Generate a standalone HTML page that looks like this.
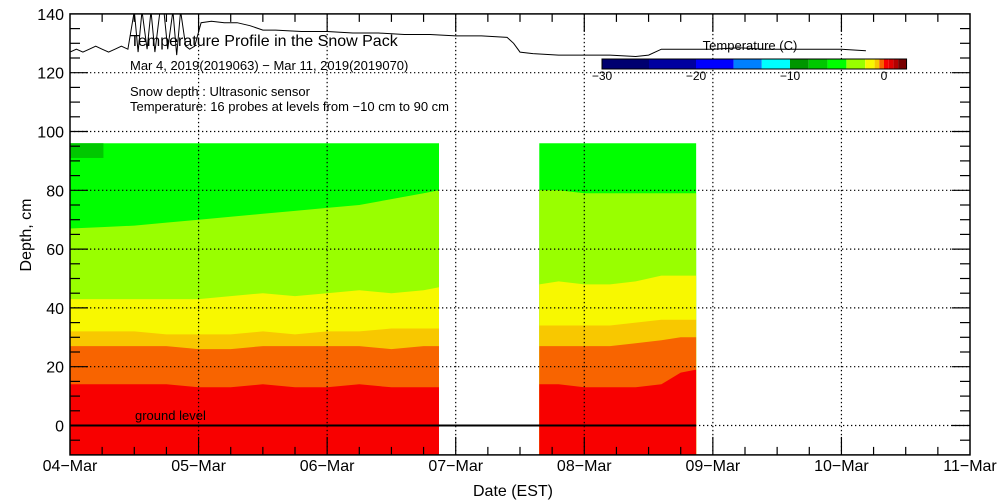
<!DOCTYPE html>
<html><head><meta charset="utf-8"><style>
html,body{margin:0;padding:0;background:#fff;}
svg{display:block;font-family:"Liberation Sans",sans-serif;}
</style></head><body>
<svg id="chart" width="1000" height="500" viewBox="0 0 1000 500">
<g id="bands"></g>
<g id="grid"></g>
<g id="axes"></g>
<g id="texts">
<text x="130" y="46" font-size="16" fill="#000">Temperature Profile in the Snow Pack</text>
<text x="130" y="70" font-size="13" fill="#000">Mar  4, 2019(2019063) − Mar 11, 2019(2019070)</text>
<text x="130" y="96" font-size="13" fill="#000">Snow depth : Ultrasonic sensor</text>
<text x="130" y="111" font-size="13" fill="#000">Temperature: 16 probes at levels from −10 cm to 90 cm</text>
<text x="135" y="420" font-size="13" fill="#000">ground level</text>
<text x="750" y="50" font-size="13" fill="#000" text-anchor="middle">Temperature (C)</text>
<text x="513" y="496" font-size="16" fill="#000" text-anchor="middle">Date (EST)</text>
<text x="0" y="0" font-size="16" fill="#000" text-anchor="middle" transform="translate(31,235) rotate(-90)">Depth, cm</text>
</g>
<g id="snowline"></g>
<g id="colorbar"></g>
</svg>
<script>
const NS="http://www.w3.org/2000/svg";
const dayLabels=["04−Mar","05−Mar","06−Mar","07−Mar","08−Mar","09−Mar","10−Mar","11−Mar"];
const yTicks=[0,20,40,60,80,100,120,140];
const bandColors=["#00ff00","#99ff00","#f8f800","#f8c800","#f86400","#f80000"];
const seg1Times=[0,0.25,0.5,0.75,1,1.25,1.5,1.75,2,2.25,2.5,2.75,2.87];
const seg1GreenLime=[67,67.5,68,69,70,71,72,73,74,75,77,79,80];
const seg1LimeYellow=[43,43,43,43,43,44,45,44,45,46,45,46,47];
const seg1YellowGold=[32,32,32,31,31,31,32,31,32,32,33,33,33];
const seg1GoldOrange=[27,27,27,27,26,26,27,27,27,27,26,27,27];
const seg1OrangeRed=[14,14,14,14,13,13,14,13,13,14,13,13,13];
const seg2Times=[3.65,3.8,4.0,4.2,4.4,4.6,4.75,4.87];
const seg2GreenLime=[80,80,79,79,79,79,79,79];
const seg2LimeYellow=[48,49,48,48,49,51,51,51];
const seg2YellowGold=[34,34,34,34,35,36,36,36];
const seg2GoldOrange=[27,27,27,27,28,29,30,30];
const seg2OrangeRed=[14,14,13,13,13,14,18,19];
const topDepth=96;
const snowTimes=[0,0.05,0.1,0.15,0.2,0.25,0.3,0.35,0.4,0.45,0.5,0.53,0.56,0.6,0.63,0.66,0.7,0.73,0.76,0.8,0.83,0.86,0.9,0.93,0.97,1.02,1.1,1.2,1.3,1.4,1.5,1.6,1.8,2.0,2.2,2.4,2.6,2.8,3.0,3.2,3.4,3.45,3.5,3.6,3.8,4.0,4.2,4.4,4.5,4.6,4.8,5.0,5.2,5.4,5.6,5.8,6.0,6.19];
const snowDepth=[127,128,127,128,129,128,127,128,129,128,141,127,141,128,141,127,141,141,128,141,126,141,129,128,129,137,137.5,137,137,136,134.5,134.5,134,134,133.5,133.5,133,133,132.5,132.5,132,130,127,126.5,126,126,126,125.5,126,128,128,128,128.5,128,128,128,128,127.5];
const cbValues=[-30,-25,-20,-16,-13,-10,-8,-6,-4,-2,-1,-0.5,0,0.5,1,1.5,2.4];
const cbColors=["#000070","#0000a0","#0000ff","#0080ff","#00ffff","#009600","#00c800","#00ff00","#99ff00","#f8f800","#f8c800","#f86400","#f80000","#e00000","#b40000","#780000"];
const cbTicks=[-30,-20,-10,0];

const X0=70,X1=970,DAYW=(X1-X0)/7;
const xs=d=>X0+d*DAYW;
const ys=v=>425.5-2.94*v;
const cbx=v=>602+(v+30)*9.4;
function mk(tag,attrs,parent){const e=document.createElementNS(NS,tag);for(const k in attrs)e.setAttribute(k,attrs[k]);parent.appendChild(e);return e;}
const bands=document.getElementById('bands');
function drawSeg(times,bounds,segName){
  const xa=xs(times[0]),xb=xs(times[times.length-1]);
  const r=mk('rect',{x:xa,y:ys(topDepth),width:xb-xa,height:ys(-10)-ys(topDepth),fill:bandColors[0]},bands);
  
  
  bounds.forEach((b,i)=>{
    let pts=times.map((t,j)=>xs(t).toFixed(1)+","+ys(b[j]).toFixed(1));
    pts.push(xb+","+ys(-10),xa+","+ys(-10));
    const p=mk('polygon',{points:pts.join(" "),fill:bandColors[i+1]},bands);
    
    
  });
}
drawSeg(seg1Times,[seg1GreenLime,seg1LimeYellow,seg1YellowGold,seg1GoldOrange,seg1OrangeRed],'period1');
const dg=mk('rect',{x:xs(0),y:ys(topDepth),width:xs(0.26)-xs(0),height:ys(91)-ys(topDepth),fill:"#00c800"},bands);


drawSeg(seg2Times,[seg2GreenLime,seg2LimeYellow,seg2YellowGold,seg2GoldOrange,seg2OrangeRed],'period2');

const grid=document.getElementById('grid');
for(let d=1;d<7;d++){const l=mk('line',{x1:xs(d),x2:xs(d),y1:ys(140),y2:ys(-10),stroke:"#000","stroke-width":1.2,"stroke-dasharray":"1.3,2.7"},grid);

}
yTicks.forEach(v=>{if(v===0||v===140)return;const l=mk('line',{x1:X0,x2:X1,y1:ys(v),y2:ys(v),stroke:"#000","stroke-width":1.2,"stroke-dasharray":"1.3,2.7"},grid);

});
const g0=mk('line',{x1:xs(2.87),x2:X1,y1:ys(0),y2:ys(0),stroke:"#000","stroke-width":1.2,"stroke-dasharray":"1.3,2.7"},grid);


const gl=mk('line',{x1:X0,x2:xs(4.87),y1:ys(0),y2:ys(0),stroke:"#000","stroke-width":2},grid);



const axes=document.getElementById('axes');
const fr=mk('rect',{x:X0,y:ys(140),width:X1-X0,height:ys(-10)-ys(140),fill:"none",stroke:"#000","stroke-width":1.5},axes);


for(let v=-5;v<140;v+=5){const L=(v%20===0)?18:10;
 mk('line',{x1:X0,x2:X0+L,y1:ys(v),y2:ys(v),stroke:"#000","stroke-width":1.2},axes);
 mk('line',{x1:X1-L,x2:X1,y1:ys(v),y2:ys(v),stroke:"#000","stroke-width":1.2},axes);}
for(let q=1;q<28;q++){const L=(q%4===0)?18:8;const x=xs(q/4);
 mk('line',{x1:x,x2:x,y1:ys(-10),y2:ys(-10)-L,stroke:"#000","stroke-width":1.2},axes);
 mk('line',{x1:x,x2:x,y1:ys(140),y2:ys(140)+L,stroke:"#000","stroke-width":1.2},axes);}
yTicks.forEach(v=>{const t=mk('text',{x:64,y:ys(v)+6,"font-size":16,"text-anchor":"end",fill:"#000"},axes);t.textContent=v;

});
dayLabels.forEach((s,i)=>{const t=mk('text',{x:xs(i),y:471,"font-size":16,"text-anchor":"middle",fill:"#000"},axes);t.textContent=s;

});

const sl=document.getElementById('snowline');
const cp=mk('clipPath',{id:"clipTop"},sl);mk('rect',{x:X0,y:ys(140),width:X1-X0,height:ys(-10)-ys(140)},cp);
const pl=mk('polyline',{points:snowTimes.map((t,i)=>xs(t).toFixed(1)+","+ys(snowDepth[i]).toFixed(1)).join(" "),fill:"none",stroke:"#000","stroke-width":1,"clip-path":"url(#clipTop)"},sl);



const cb=document.getElementById('colorbar');
cbColors.forEach((c,i)=>{const r=mk('rect',{x:cbx(cbValues[i]),y:59,width:cbx(cbValues[i+1])-cbx(cbValues[i]),height:10,fill:c},cb);

});
mk('rect',{x:cbx(-30),y:59,width:cbx(cbValues[cbValues.length-1])-cbx(-30),height:10,fill:"none",stroke:"#000","stroke-width":1},cb);
cbTicks.forEach(v=>{const t=mk('text',{x:cbx(v),y:80,"font-size":12,"text-anchor":"middle",fill:"#000"},cb);t.textContent=v===0?"0":"−"+Math.abs(v);

});
</script>
</body></html>
